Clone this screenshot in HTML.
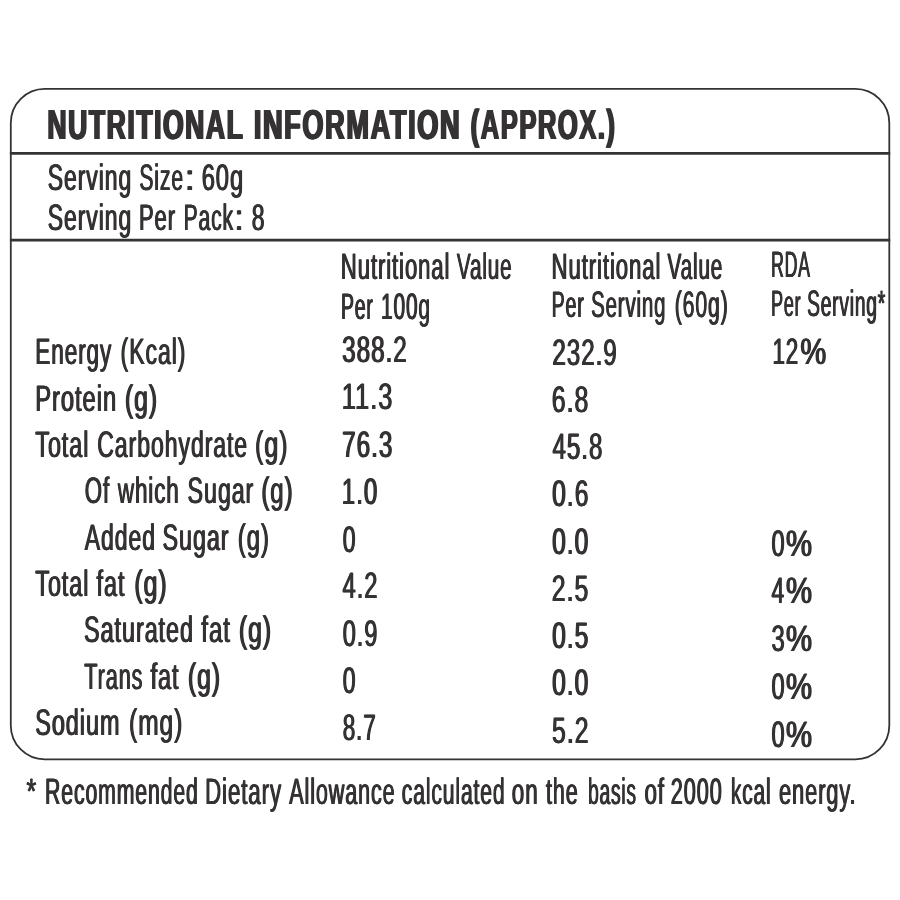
<!DOCTYPE html>
<html><head><meta charset="utf-8"><title>Nutritional Information</title>
<style>
html,body{margin:0;padding:0;background:#fff;}
body{width:900px;height:900px;position:relative;overflow:hidden;font-family:"Liberation Sans",sans-serif;color:#353233;}
.fr{position:absolute;left:0;top:0;}
.l{position:absolute;left:0;width:0;height:0;line-height:1;white-space:nowrap;text-rendering:geometricPrecision;}
.l span{position:absolute;left:0;top:0;transform-origin:0 0;white-space:nowrap;}
.r{font-weight:400;text-shadow:0.8px 0 0 #353233,-0.8px 0 0 #353233;}
.b{font-weight:700;text-shadow:1.4px 0 0 #353233,-1.4px 0 0 #353233;}
</style></head><body>
<svg class="fr" width="900" height="900" viewBox="0 0 900 900">
<rect x="10.8" y="88.9" width="878.5" height="670.5" rx="34" ry="34" fill="none" stroke="#353233" stroke-width="1.8"/>
<line x1="9.9" y1="153.4" x2="890.2" y2="153.4" stroke="#353233" stroke-width="2.7"/>
<line x1="9.9" y1="240.2" x2="890.2" y2="240.2" stroke="#353233" stroke-width="2.7"/>
</svg>
<div class="l b" style="top:104px;font-size:42.0px;letter-spacing:2.5px;"><span style="transform:translateX(47.34px) scaleX(0.6315)">NUTRITIONAL</span> <span style="transform:translateX(253.82px) scaleX(0.6467)">INFORMATION</span> <span style="transform:translateX(470.72px) scaleX(0.6086)">(APPROX.)</span></div>
<div class="l r" style="top:160px;font-size:36.8px;letter-spacing:1.5px;"><span style="transform:translateX(47.81px) scaleX(0.6229)">Serving</span> <span style="transform:translateX(139.36px) scaleX(0.5750)">Size</span><span style="transform:translateX(184.90px) scaleX(0.9279)">:</span> <span style="transform:translateX(201.66px) scaleX(0.6445)">60g</span></div>
<div class="l r" style="top:200px;font-size:36.8px;letter-spacing:1.5px;"><span style="transform:translateX(47.81px) scaleX(0.6229)">Serving</span> <span style="transform:translateX(139.03px) scaleX(0.5973)">Per</span> <span style="transform:translateX(183.59px) scaleX(0.5742)">Pack</span><span style="transform:translateX(234.58px) scaleX(0.8632)">:</span> <span style="transform:translateX(251.85px) scaleX(0.6253)">8</span></div>
<div class="l r" style="top:249px;font-size:36.8px;letter-spacing:1.5px;"><span style="transform:translateX(340.82px) scaleX(0.6012)">Nutritional</span> <span style="transform:translateX(456.92px) scaleX(0.5615)">Value</span></div>
<div class="l r" style="top:289px;font-size:36.8px;letter-spacing:1.5px;"><span style="transform:translateX(341.00px) scaleX(0.5281)">Per</span> <span style="transform:translateX(381.03px) scaleX(0.5674)">100g</span></div>
<div class="l r" style="top:249px;font-size:36.8px;letter-spacing:1.5px;"><span style="transform:translateX(551.52px) scaleX(0.6029)">Nutritional</span> <span style="transform:translateX(667.52px) scaleX(0.5625)">Value</span></div>
<div class="l r" style="top:287px;font-size:36.8px;letter-spacing:1.5px;"><span style="transform:translateX(551.69px) scaleX(0.5315)">Per</span> <span style="transform:translateX(591.08px) scaleX(0.5564)">Serving</span> <span style="transform:translateX(674.71px) scaleX(0.5776)">(60g)</span></div>
<div class="l r" style="top:247px;font-size:36.8px;letter-spacing:1.5px;"><span style="transform:translateX(771.12px) scaleX(0.4814)">RDA</span></div>
<div class="l r" style="top:286px;font-size:36.8px;letter-spacing:1.5px;"><span style="transform:translateX(771.10px) scaleX(0.4883)">Per</span> <span style="transform:translateX(807.12px) scaleX(0.5220)">Serving*</span></div>
<div class="l r" style="top:334px;font-size:36.8px;letter-spacing:1.5px;"><span style="transform:translateX(35.29px) scaleX(0.6125)">Energy</span> <span style="transform:translateX(120.62px) scaleX(0.6251)">(Kcal)</span></div>
<div class="l r" style="top:381px;font-size:36.8px;letter-spacing:1.5px;"><span style="transform:translateX(35.21px) scaleX(0.6447)">Protein</span> <span style="transform:translateX(124.84px) scaleX(0.6735)">(g)</span></div>
<div class="l r" style="top:427px;font-size:36.8px;letter-spacing:1.5px;"><span style="transform:translateX(35.33px) scaleX(0.6338)">Total</span> <span style="transform:translateX(97.18px) scaleX(0.6264)">Carbohydrate</span> <span style="transform:translateX(255.03px) scaleX(0.6780)">(g)</span></div>
<div class="l r" style="top:473px;font-size:36.8px;letter-spacing:1.5px;"><span style="transform:translateX(84.79px) scaleX(0.6032)">Of</span> <span style="transform:translateX(117.87px) scaleX(0.6089)">which</span> <span style="transform:translateX(187.60px) scaleX(0.6308)">Sugar</span> <span style="transform:translateX(261.38px) scaleX(0.6511)">(g)</span></div>
<div class="l r" style="top:520px;font-size:36.8px;letter-spacing:1.5px;"><span style="transform:translateX(84.80px) scaleX(0.6239)">Added</span> <span style="transform:translateX(162.60px) scaleX(0.6328)">Sugar</span> <span style="transform:translateX(237.78px) scaleX(0.6489)">(g)</span></div>
<div class="l r" style="top:566px;font-size:36.8px;letter-spacing:1.5px;"><span style="transform:translateX(35.33px) scaleX(0.6338)">Total</span> <span style="transform:translateX(96.52px) scaleX(0.6350)">fat</span> <span style="transform:translateX(134.34px) scaleX(0.6735)">(g)</span></div>
<div class="l r" style="top:612px;font-size:36.8px;letter-spacing:1.5px;"><span style="transform:translateX(84.10px) scaleX(0.6344)">Saturated</span> <span style="transform:translateX(201.23px) scaleX(0.6553)">fat</span> <span style="transform:translateX(238.84px) scaleX(0.6735)">(g)</span></div>
<div class="l r" style="top:659px;font-size:36.8px;letter-spacing:1.5px;"><span style="transform:translateX(84.34px) scaleX(0.5887)">Trans</span> <span style="transform:translateX(150.62px) scaleX(0.6373)">fat</span> <span style="transform:translateX(187.84px) scaleX(0.6735)">(g)</span></div>
<div class="l r" style="top:705px;font-size:36.8px;letter-spacing:1.5px;"><span style="transform:translateX(35.29px) scaleX(0.6366)">Sodium</span> <span style="transform:translateX(129.05px) scaleX(0.6651)">(mg)</span></div>
<div class="l r" style="top:332px;font-size:36.8px;letter-spacing:1.5px;"><span style="transform:translateX(342.14px) scaleX(0.6596)">388.2</span></div>
<div class="l r" style="top:379px;font-size:36.8px;letter-spacing:1.5px;"><span style="transform:translateX(341.75px) scaleX(0.6905)">11.3</span></div>
<div class="l r" style="top:427px;font-size:36.8px;letter-spacing:1.5px;"><span style="transform:translateX(342.12px) scaleX(0.6604)">76.3</span></div>
<div class="l r" style="top:474px;font-size:36.8px;letter-spacing:1.5px;"><span style="transform:translateX(341.83px) scaleX(0.6544)">1.0</span></div>
<div class="l r" style="top:522px;font-size:36.8px;letter-spacing:1.5px;"><span style="transform:translateX(342.75px) scaleX(0.6252)">0</span></div>
<div class="l r" style="top:568px;font-size:36.8px;letter-spacing:1.5px;"><span style="transform:translateX(342.52px) scaleX(0.6466)">4.2</span></div>
<div class="l r" style="top:616px;font-size:36.8px;letter-spacing:1.5px;"><span style="transform:translateX(342.74px) scaleX(0.6411)">0.9</span></div>
<div class="l r" style="top:663px;font-size:36.8px;letter-spacing:1.5px;"><span style="transform:translateX(342.75px) scaleX(0.6252)">0</span></div>
<div class="l r" style="top:710px;font-size:36.8px;letter-spacing:1.5px;"><span style="transform:translateX(342.66px) scaleX(0.6117)">8.7</span></div>
<div class="l r" style="top:335px;font-size:36.8px;letter-spacing:1.5px;"><span style="transform:translateX(552.35px) scaleX(0.6568)">232.9</span></div>
<div class="l r" style="top:382px;font-size:36.8px;letter-spacing:1.5px;"><span style="transform:translateX(551.82px) scaleX(0.6756)">6.8</span></div>
<div class="l r" style="top:429px;font-size:36.8px;letter-spacing:1.5px;"><span style="transform:translateX(552.51px) scaleX(0.6551)">45.8</span></div>
<div class="l r" style="top:476px;font-size:36.8px;letter-spacing:1.5px;"><span style="transform:translateX(552.11px) scaleX(0.6702)">0.6</span></div>
<div class="l r" style="top:524px;font-size:36.8px;letter-spacing:1.5px;"><span style="transform:translateX(552.11px) scaleX(0.6679)">0.0</span></div>
<div class="l r" style="top:571px;font-size:36.8px;letter-spacing:1.5px;"><span style="transform:translateX(551.83px) scaleX(0.6746)">2.5</span></div>
<div class="l r" style="top:618px;font-size:36.8px;letter-spacing:1.5px;"><span style="transform:translateX(552.11px) scaleX(0.6693)">0.5</span></div>
<div class="l r" style="top:665px;font-size:36.8px;letter-spacing:1.5px;"><span style="transform:translateX(552.11px) scaleX(0.6679)">0.0</span></div>
<div class="l r" style="top:713px;font-size:36.8px;letter-spacing:1.5px;"><span style="transform:translateX(552.08px) scaleX(0.6737)">5.2</span></div>
<div class="l r" style="top:334px;font-size:36.8px;letter-spacing:1.5px;"><span style="transform:translateX(772.43px) scaleX(0.6092)">12</span><span style="transform:translateX(800.41px) scaleX(0.7913)">%</span></div>
<div class="l r" style="top:526px;font-size:36.8px;letter-spacing:1.5px;"><span style="transform:translateX(771.44px) scaleX(0.6412)">0</span><span style="transform:translateX(785.90px) scaleX(0.8009)">%</span></div>
<div class="l r" style="top:573px;font-size:36.8px;letter-spacing:1.5px;"><span style="transform:translateX(771.62px) scaleX(0.6204)">4</span><span style="transform:translateX(785.90px) scaleX(0.8009)">%</span></div>
<div class="l r" style="top:621px;font-size:36.8px;letter-spacing:1.5px;"><span style="transform:translateX(771.46px) scaleX(0.6462)">3</span><span style="transform:translateX(785.90px) scaleX(0.8009)">%</span></div>
<div class="l r" style="top:669px;font-size:36.8px;letter-spacing:1.5px;"><span style="transform:translateX(771.44px) scaleX(0.6412)">0</span><span style="transform:translateX(785.90px) scaleX(0.8009)">%</span></div>
<div class="l r" style="top:717px;font-size:36.8px;letter-spacing:1.5px;"><span style="transform:translateX(771.44px) scaleX(0.6412)">0</span><span style="transform:translateX(785.90px) scaleX(0.8009)">%</span></div>
<div class="l r" style="top:774px;font-size:36.8px;letter-spacing:1.5px;"><span style="transform:translateX(26.48px) scaleX(0.6793)">*</span> <span style="transform:translateX(45.08px) scaleX(0.5775)">Recommended</span> <span style="transform:translateX(205.11px) scaleX(0.6052)">Dietary</span> <span style="transform:translateX(289.29px) scaleX(0.5861)">Allowance</span> <span style="transform:translateX(401.82px) scaleX(0.5737)">calculated</span> <span style="transform:translateX(511.80px) scaleX(0.6082)">on</span> <span style="transform:translateX(546.00px) scaleX(0.5840)">the</span> <span style="transform:translateX(588.05px) scaleX(0.5217)">basis</span> <span style="transform:translateX(644.40px) scaleX(0.6095)">of</span> <span style="transform:translateX(670.84px) scaleX(0.5891)">2000</span> <span style="transform:translateX(730.91px) scaleX(0.5687)">kcal</span> <span style="transform:translateX(779.00px) scaleX(0.5942)">energy.</span></div>
</body></html>
